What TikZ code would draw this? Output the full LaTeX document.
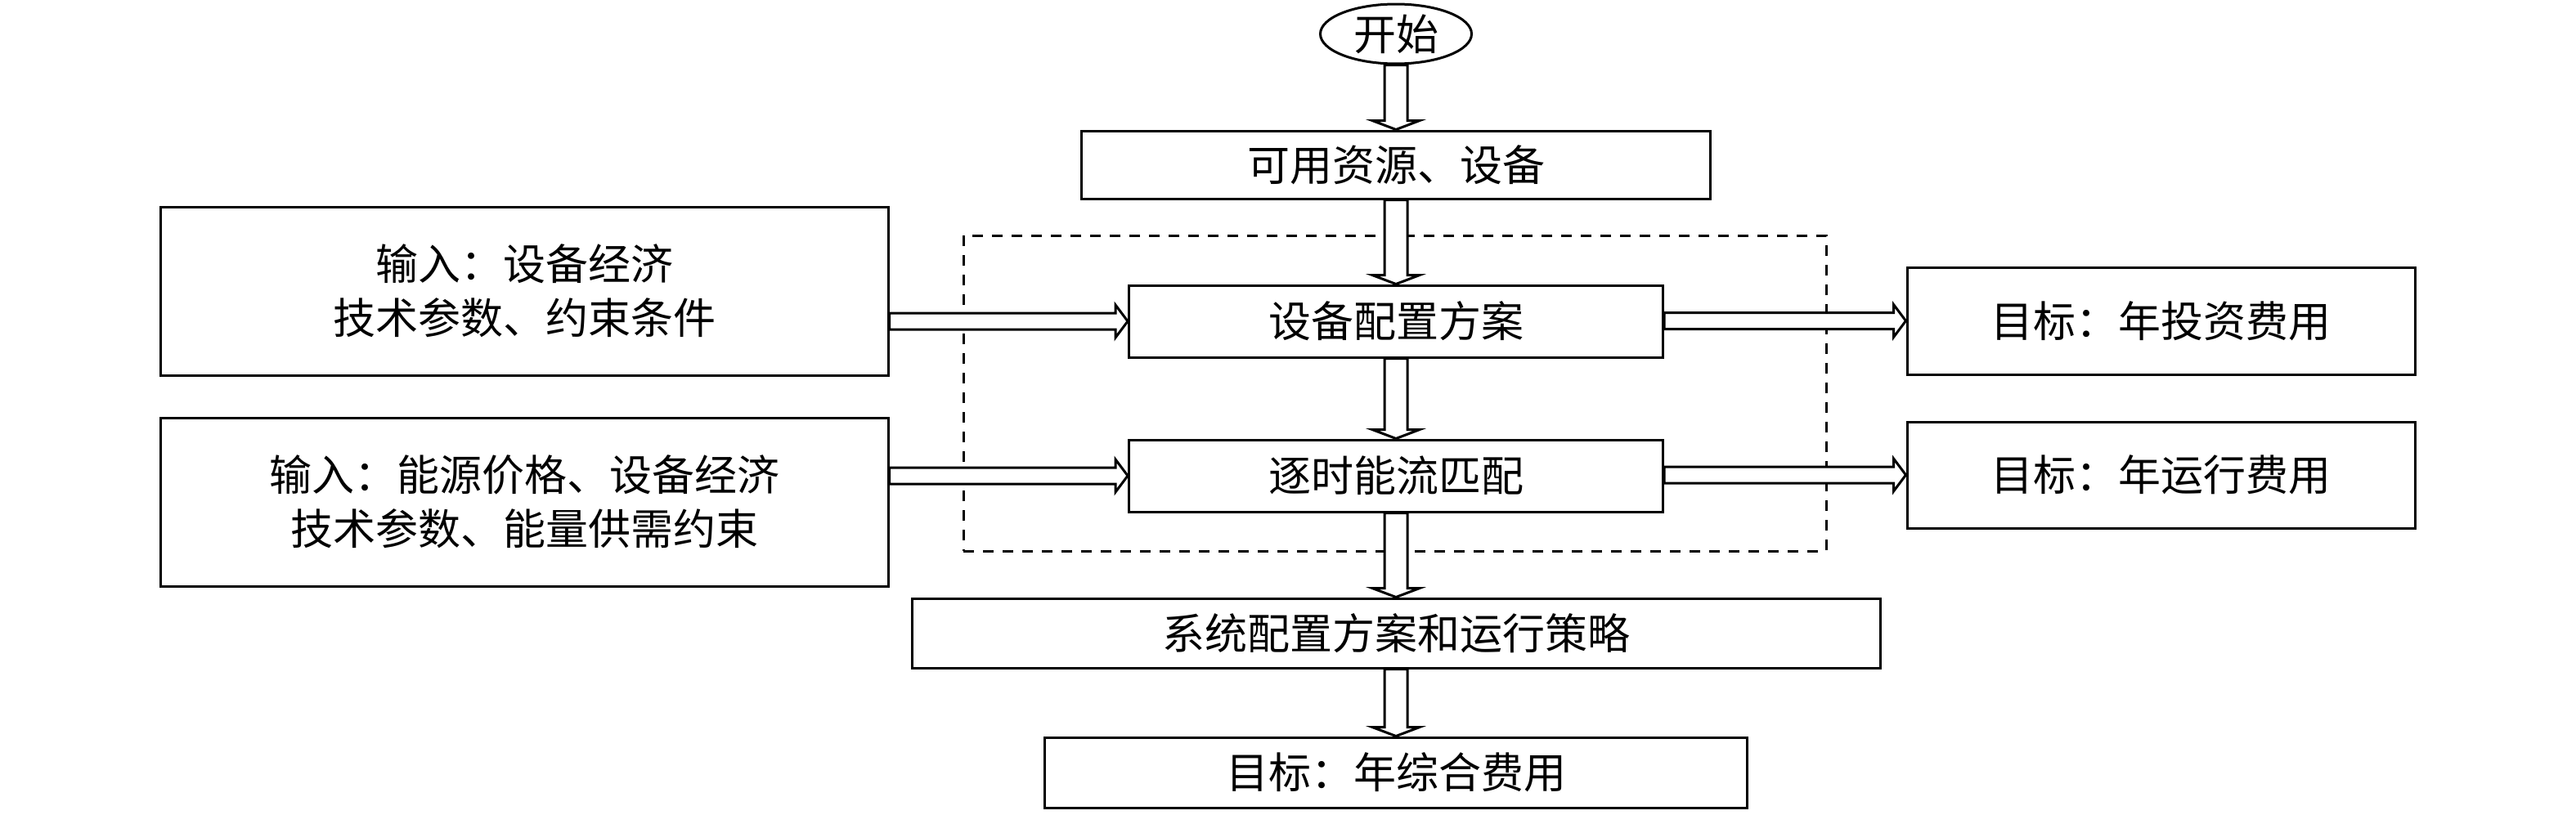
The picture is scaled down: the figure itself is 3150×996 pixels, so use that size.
\documentclass[tikz,border=0pt]{standalone}
\usepackage{fontspec}
\setmainfont{Noto Sans CJK SC}
\usetikzlibrary{shapes.geometric,calc}
\tikzset{
  box/.style={draw, line width=3pt, rectangle, inner sep=0pt, align=center,
    font=\fontsize{52}{66}\selectfont},
  startbox/.style={draw, line width=3pt, ellipse, inner sep=0pt,
    font=\fontsize{52}{66}\selectfont, minimum width=185pt, minimum height=73pt},
  groupbox/.style={draw, line width=3pt, dash pattern=on 13pt off 11pt, rectangle, inner sep=0pt},
  flow/.style={draw, fill=white, line width=3pt, line join=miter},
}
\newcommand{\vflow}[2]{%
  \draw[flow] let \p1=(#1.south), \p2=(#2.north) in
    (\x1-14pt,\y1) -- (\x1-14pt,\y2+11pt) -- (\x1-29pt,\y2+11pt) -- (\x1,\y2)
    -- (\x1+29pt,\y2+11pt) -- (\x1+14pt,\y2+11pt) -- (\x1+14pt,\y1) -- cycle;}
\newcommand{\hflow}[2]{%
  \draw[flow] let \p1=(#1.east), \p2=(#2.west) in
    (\x1,\y2+10pt) -- (\x2-15pt,\y2+10pt) -- (\x2-15pt,\y2+20pt) -- (\x2,\y2)
    -- (\x2-15pt,\y2-20pt) -- (\x2-15pt,\y2-10pt) -- (\x1,\y2-10pt) -- cycle;}
\begin{document}
\begin{tikzpicture}[x=1pt,y=-1pt]
\useasboundingbox (0,0) rectangle (3150,996);
% group frame
\node[groupbox, minimum width=1055pt, minimum height=386pt] (grp) at (1705.5,481) {};
% nodes
\node[startbox] (start) at (1707,41.5) {开始};
\node[box, minimum width=769pt, minimum height=83pt] (res) at (1707,201.5) {可用资源、设备};
\node[box, minimum width=653pt, minimum height=88pt] (cfg) at (1707,393) {设备配置方案};
\node[box, minimum width=653pt, minimum height=88pt] (match) at (1707,582) {逐时能流匹配};
\node[box, minimum width=1184pt, minimum height=85pt] (sys) at (1707,774.5) {系统配置方案和运行策略};
\node[box, minimum width=859pt, minimum height=86pt] (total) at (1707,945) {目标：年综合费用};
\node[box, minimum width=890pt, minimum height=206pt] (in1) at (641,356) {输入：设备经济\\技术参数、约束条件};
\node[box, minimum width=890pt, minimum height=206pt] (in2) at (641,614) {输入：能源价格、设备经济\\技术参数、能量供需约束};
\node[box, minimum width=621pt, minimum height=131pt] (goal1) at (2642.5,392.5) {目标：年投资费用};
\node[box, minimum width=621pt, minimum height=130pt] (goal2) at (2642.5,581) {目标：年运行费用};
% connectors
\vflow{start}{res}
\vflow{res}{cfg}
\vflow{cfg}{match}
\vflow{match}{sys}
\vflow{sys}{total}
\hflow{in1}{cfg}
\hflow{in2}{match}
\hflow{cfg}{goal1}
\hflow{match}{goal2}
\end{tikzpicture}
\end{document}
